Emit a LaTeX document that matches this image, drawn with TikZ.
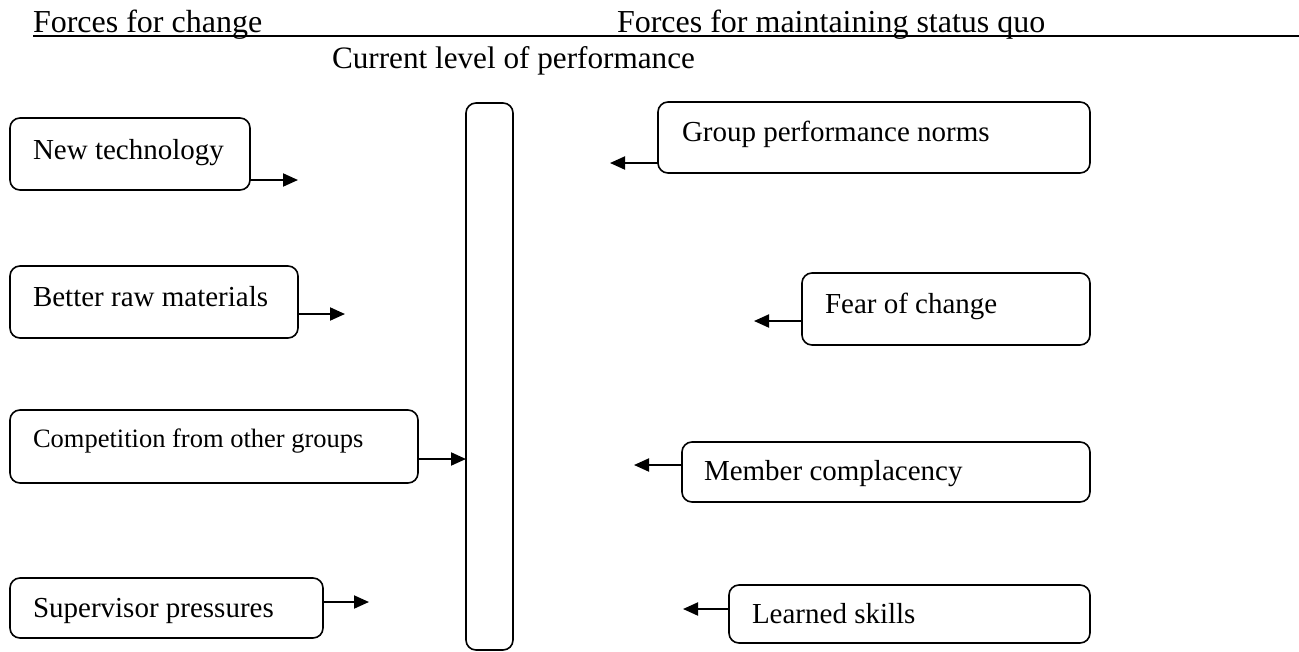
\documentclass[tikz,border=0pt]{standalone}
\usepackage{fontspec}
\setmainfont{Liberation Serif}
\usetikzlibrary{arrows.meta}
\begin{document}
\begin{tikzpicture}[x=1pt,y=-1pt,
  box/.style={draw, line width=1.6pt, rounded corners=10pt, inner sep=0pt, outer sep=0pt, anchor=north west},
  txt/.style={inner sep=0pt, outer sep=0pt, anchor=base west, font=\fontsize{29}{34}\selectfont},
  hdr/.style={inner sep=0pt, outer sep=0pt, anchor=base west, font=\fontsize{32}{38}\selectfont},
  arr/.style={line width=2pt, -{Triangle[length=15pt,width=13pt]}}
]
\useasboundingbox (0,0) rectangle (1299,651);
% headers
\node[hdr] (h1) at (33,32) {Forces for change};
\node[hdr] (h2) at (617,32) {Forces for maintaining status quo};
\coordinate (ulL) at (33,36);
\coordinate (ulR) at (1299,36);
\draw[line width=1.6pt] (ulL) -- (ulR);
\node[hdr, font=\fontsize{31.2}{37}\selectfont] (cur) at (332,68) {Current level of performance};
% bar
\node[box, minimum width=47pt, minimum height=547pt] (bar) at (466,103) {};
% left boxes
\node[box, minimum width=240pt, minimum height=72pt] (nt) at (10,118) {};
\node[txt] (ntt) at (33,159) {New technology};
\node[box, minimum width=288pt, minimum height=72pt] (brm) at (10,266) {};
\node[txt] (brmt) at (33,306) {Better raw materials};
\node[box, minimum width=408pt, minimum height=73pt] (comp) at (10,410) {};
\node[txt, font=\fontsize{26.5}{31}\selectfont] (compt) at (33,447) {Competition from other groups};
\node[box, minimum width=313pt, minimum height=60pt] (sp) at (10,578) {};
\node[txt] (spt) at (33,617) {Supervisor pressures};
% right boxes
\node[box, minimum width=432pt, minimum height=71pt] (gpn) at (658,102) {};
\node[txt] (gpnt) at (682,141) {Group performance norms};
\node[box, minimum width=288pt, minimum height=72pt] (foc) at (802,273) {};
\node[txt] (foct) at (825,313) {Fear of change};
\node[box, minimum width=408pt, minimum height=60pt] (mc) at (682,442) {};
\node[txt] (mct) at (704,480) {Member complacency};
\node[box, minimum width=361pt, minimum height=58pt] (ls) at (729,585) {};
\node[txt] (lst) at (752,623) {Learned skills};
% arrow tips
\coordinate (ntA) at (298,180);
\coordinate (brmA) at (345,314);
\coordinate (compA) at (466,459);
\coordinate (spA) at (369,602);
\coordinate (gpnA) at (610,163);
\coordinate (focA) at (754,321);
\coordinate (mcA) at (634,465);
\coordinate (lsA) at (683,609);
\draw[arr] (nt.east |- ntA) -- (ntA);
\draw[arr] (brm.east |- brmA) -- (brmA);
\draw[arr] (comp.east |- compA) -- (bar.west |- compA);
\draw[arr] (sp.east |- spA) -- (spA);
\draw[arr] (gpn.west |- gpnA) -- (gpnA);
\draw[arr] (foc.west |- focA) -- (focA);
\draw[arr] (mc.west |- mcA) -- (mcA);
\draw[arr] (ls.west |- lsA) -- (lsA);
\end{tikzpicture}
\end{document}
